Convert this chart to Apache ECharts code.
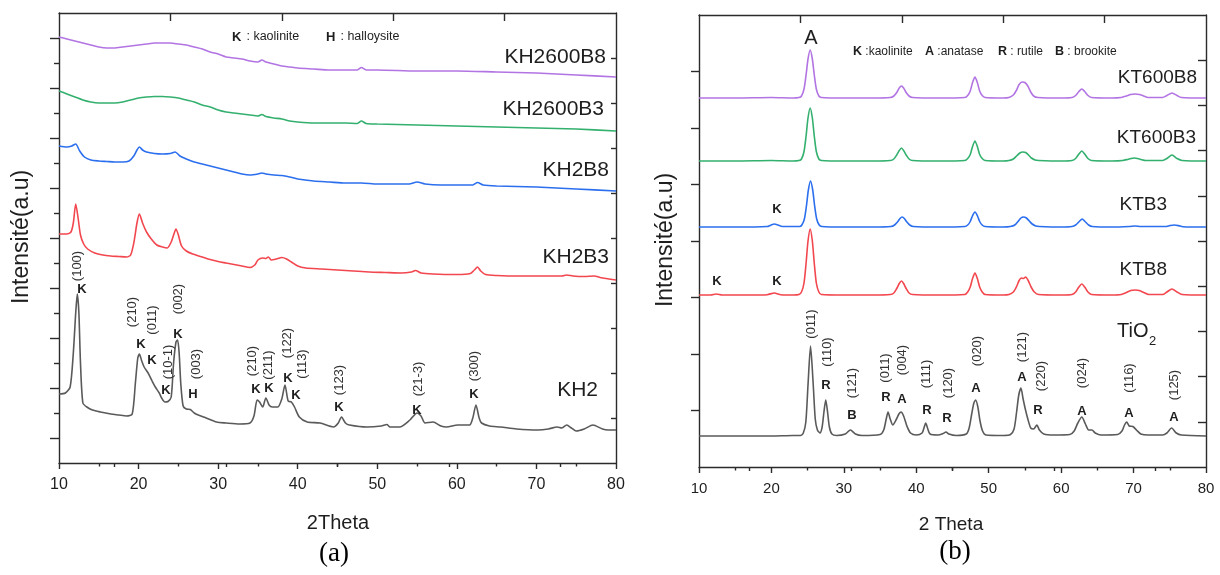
<!DOCTYPE html>
<html>
<head>
<meta charset="utf-8">
<script src="https://cdn.jsdelivr.net/npm/echarts@6/dist/echarts.min.js"></script>
<style>
  html, body { margin: 0; padding: 0; background: #fff; }
  #chart { width: 1220px; height: 575px; }
</style>
</head>
<body>
<div id="chart"></div>
<script>
// ---- Panel (a): kaolinite / halloysite samples, [2theta, intensity a.u.] ----
const kh2600b8 = [[10,426],[11,424],[12,422],[13,420],[14,418],[15,416],[16,415],[17,415],[18,416],[19,417],[20,418],[21,419],[22,420],[23,420],[24,420],[25,419],[26,418],[27,416],[28,414],[29,411],[30,409],[31,406],[32,405],[33,404],[34,402],[35,401],[35.5,403],[36,401],[37,399],[38,397],[39,396],[40,395],[42,394],[44,393],[46,393],[47.5,393],[48,395.5],[48.6,393],[50,393],[55,392],[60,392],[65,391],[70,390],[75,388],[80,386]];
const kh2600b3 = [[10,372],[11,369],[12,366],[13,363],[14,361],[15,360],[16,360],[17,360],[18,361],[19,363],[20,365],[21,366],[22,366.5],[23,366.5],[24,366],[25,365],[26,363],[27,361],[28,358],[29,356],[30,353],[31,351],[32,350],[33,349],[34,348],[35,347],[35.5,348.5],[36,346.5],[37,345],[38,344],[39,342],[40,341],[42,340],[44,340],[46,340],[47.5,339.5],[48,342],[48.6,339.5],[50,339],[55,338],[60,337],[65,336],[70,335],[75,334],[80,332]];
const kh2b8 = [[10,317],[11,316],[11.6,317],[12.1,319],[12.6,312],[13.2,306],[14,303],[15,302],[16,301.5],[17,301],[18,301],[18.8,302],[19.4,307],[19.8,313],[20.1,316],[20.5,313],[21,311],[22,309.5],[23,309],[24,309.5],[24.6,311],[25.2,307],[26,304],[27,301],[28,299],[29,297],[30,295],[31,293],[32,291],[33,289],[34,288],[35,289],[35.5,290],[36,289],[37,288],[38,287.5],[39,286],[40,284],[42,282],[44,281],[46,280],[48,280],[50,279],[52,279],[54,279],[55,281],[56,279],[58,278],[60,278],[62,278],[62.6,280.5],[63.3,278],[65,277],[70,276],[75,274],[80,272]];
const kh2b3 = [[10,229],[11,229],[11.5,231],[11.8,240],[12.1,259],[12.4,245],[12.7,228],[13.1,219],[13.6,214],[14.5,210],[15.5,208],[16.5,207],[17.5,206.5],[18.5,206],[19,208],[19.4,220],[19.8,240],[20.1,249],[20.5,240],[21,231],[21.6,224],[22.3,218],[23,216],[23.6,215],[24.1,221],[24.4,228],[24.7,234],[25,228],[25.4,217],[26,212],[26.8,209],[28,206],[29,203.5],[30,201.5],[31,200],[32,198.5],[33,197],[34,195.5],[34.6,198],[35,203],[35.6,205],[36,204.5],[36.3,206],[36.7,203],[37.3,204],[38,205.5],[38.6,204],[39.2,201],[40,197],[41,195],[43,194],[45,193],[47,192],[49,191],[51,190.5],[53,190],[54.3,191],[54.8,192.5],[55.5,190],[57,189],[60,188.5],[61.7,189.5],[62.2,193],[62.6,196],[63,192],[63.6,188.5],[65,187.5],[68,187],[71,187],[73.2,187],[73.8,188],[74.6,187],[76,186.5],[77.3,187],[78,185.5],[80,183]];
const kh2 = [[10,69],[10.8,70],[11.4,76],[11.8,110],[12.1,150],[12.3,169],[12.5,150],[12.7,100],[13,60],[13.5,56],[14.2,53],[15.2,51],[16.5,49],[17.5,48],[18.5,47],[19.2,49],[19.6,80],[19.9,105],[20.1,109],[20.4,102],[20.7,96],[21.2,90],[21.7,82],[22.1,76],[22.6,70],[22.9,65],[23.3,61],[23.7,61.5],[24.1,66],[24.4,100],[24.7,121],[24.9,123],[25.1,110],[25.3,80],[25.6,57],[26,54],[26.5,53.5],[27,50],[27.5,48],[28.5,45],[29.8,41],[31,40],[32.7,39],[34,40],[34.5,47],[34.9,63],[35.2,61],[35.6,56],[36,65],[36.4,58],[36.8,56],[37.5,56],[38,64],[38.4,78],[38.8,62],[39.2,61],[39.6,56],[40.2,46],[41.2,41],[42.8,40],[44.5,36],[45.1,40],[45.5,46],[46,40],[46.5,38],[48.7,36],[50.5,37],[51.2,38.5],[51.6,36],[52.8,36],[54.1,43],[55,50],[55.5,47],[56,40],[57,41],[58,37],[58.7,36],[60.1,38],[61.6,38],[62,45],[62.4,58],[62.8,45],[63.1,40],[64.1,37],[65.5,36],[67.5,34],[70.2,33],[71.5,34],[72.6,36],[73.2,35],[73.8,38],[74.4,35],[75,32],[76,34],[77.1,38],[78.3,34],[79,33],[80,33]];

// ---- Panel (b): TiO2 composites, [2theta, intensity a.u.] ----
const kt600b8 = [[10,369],[15,369],[20,369.5],[23,369],[23.8,369.5],[24.15,371],[24.5,378],[24.8,393],[25.05,408],[25.35,417],[25.65,408],[25.9,393],[26.2,378],[26.55,371],[26.9,369.5],[30,369],[34,369],[36.4,369.5],[36.9,371],[37.3,374.5],[37.65,379],[37.95,381],[38.25,379],[38.6,374.5],[39,371],[39.5,369.5],[43,369],[46.7,369.5],[47.1,371.5],[47.45,376],[47.75,384],[48.1,390],[48.45,384],[48.75,376],[49.1,371.5],[49.5,369.5],[52,369],[52.8,369.5],[53.4,372],[53.85,377],[54.2,382.5],[54.6,385],[55,384.5],[55.4,381],[55.8,375],[56.2,371],[56.8,369.5],[60,369],[61.5,369.5],[62,371.5],[62.45,375.5],[62.85,378],[63.25,375.5],[63.7,371.5],[64.2,369.5],[67,369],[68.3,369.5],[69,371],[69.6,372.5],[70.2,373],[70.8,372.5],[71.4,371],[72,369.5],[74,369.5],[74.6,371.5],[75.3,374],[76,371.5],[76.6,369.5],[80,369]];
const kt600b3 = [[10,306],[15,306],[20,306.5],[23,306],[23.8,306.5],[24.15,308],[24.5,315.5],[24.8,332],[25.05,349],[25.35,359],[25.65,349],[25.9,332],[26.2,315.5],[26.55,308],[26.9,306.5],[30,306],[34,306],[36.4,306.5],[36.9,308],[37.3,312],[37.65,316.5],[37.95,319],[38.25,316.5],[38.6,312],[39,308],[39.5,306.5],[43,306],[46.7,306.5],[47.1,308.5],[47.45,312.5],[47.75,320],[48.1,326],[48.45,320],[48.75,312.5],[49.1,308.5],[49.5,306.5],[52,306],[52.8,306.5],[53.4,308],[53.85,311],[54.3,314],[54.7,315],[55.1,314.5],[55.5,312],[55.9,309],[56.4,307],[56.9,306.5],[60,306],[61.5,306.5],[62,308.5],[62.45,313],[62.85,316],[63.25,313],[63.7,308.5],[64.2,306.5],[67,306],[68.5,306.5],[69.3,307.8],[70.1,309],[70.9,307.8],[71.7,306.5],[74,306.5],[74.6,308.5],[75.3,312],[76,308.5],[76.7,306.5],[80,306]];
const ktb3 = [[10,240],[15,240],[19.4,240.5],[19.9,241.8],[20.4,243],[20.9,242],[21.5,240.5],[23.9,240.5],[24.2,242],[24.55,248],[24.85,262],[25.1,277],[25.4,286],[25.7,277],[25.95,262],[26.25,248],[26.6,242],[26.95,240.5],[30,240],[34,240],[36.5,240.5],[37,242],[37.4,245],[37.75,248.5],[38.05,250],[38.35,248.5],[38.7,245],[39.1,242],[39.6,240.5],[43,240],[46.7,240.5],[47.1,242],[47.45,245.5],[47.75,251],[48.1,255],[48.45,251],[48.75,245.5],[49.1,242],[49.5,240.5],[52,240],[53,240.5],[53.6,242],[54.05,245.5],[54.45,249],[54.8,250],[55.2,249],[55.6,246],[56,243],[56.5,241],[57,240.5],[60,240],[61.5,240.5],[62,242],[62.5,245.5],[62.9,248],[63.3,245.5],[63.8,242],[64.3,240.5],[67,240],[69.4,240.5],[70.2,241],[71,240.5],[74.4,240.5],[75,241.4],[75.6,242],[76.2,241.4],[76.8,240.3],[80,240]];
const ktb8 = [[10,172],[11.6,172],[12.4,173],[13.2,172],[17,172],[19.4,172.3],[20.4,174],[21.3,172.3],[23,172],[23.8,172.5],[24.15,175],[24.5,184],[24.8,205],[25.05,226],[25.35,238],[25.65,226],[25.9,205],[26.2,184],[26.55,175],[26.9,172.5],[30,172],[34,172],[36.4,172.5],[36.9,174],[37.3,178.5],[37.65,183.5],[37.95,186],[38.25,183.5],[38.6,178.5],[39,174],[39.5,172.5],[43,172],[46.7,172.5],[47.1,175],[47.45,180],[47.75,188],[48.1,194],[48.45,188],[48.75,180],[49.1,175],[49.5,172.5],[52,172],[52.8,172.5],[53.4,175],[53.85,180.5],[54.2,186.5],[54.5,189],[54.8,188.5],[55.1,190],[55.45,186.5],[55.85,180],[56.3,175],[56.9,172.5],[60,172],[61.5,172.5],[62,175],[62.45,180],[62.85,183],[63.25,180],[63.7,175],[64.2,172.5],[67,172],[68.3,172.5],[69,174.5],[69.6,176.5],[70.2,177],[70.8,176.5],[71.4,174.5],[72.1,172.5],[74,172.5],[74.6,175],[75.3,178],[76,175],[76.7,172.5],[80,172]];
const tio2 = [[10,31],[15,31],[20,31],[23,31.5],[24,31.5],[24.4,34],[24.75,45],[25.05,82],[25.4,121],[25.75,85],[26.05,48],[26.35,37],[26.7,34],[27,40],[27.25,55],[27.5,67],[27.75,55],[28,40],[28.35,33],[29,31.5],[30.2,33],[30.9,37],[31.6,33],[32.5,31.5],[35,32.5],[35.5,37],[35.85,48],[36.1,55],[36.4,48],[36.75,42],[37.2,47],[37.6,53],[37.9,55],[38.25,51],[38.7,41],[39.2,34],[40,32],[40.8,34],[41.1,40],[41.3,44],[41.55,39],[41.9,33],[43,32],[43.7,33.5],[44.1,35],[44.5,33],[45.5,31.5],[46.9,33],[47.3,39],[47.65,53],[47.95,64],[48.2,67],[48.5,60],[48.8,46],[49.15,36],[49.6,32],[52,31.5],[53,32.5],[53.5,38],[53.85,55],[54.15,72],[54.45,79],[54.75,68],[55.05,58],[55.4,48],[55.8,39],[56.2,38],[56.65,42],[57,37],[57.6,33],[59,32],[61.2,32.5],[61.8,36],[62.3,44],[62.85,50],[63.35,43],[63.8,37],[64.25,37],[64.7,34],[65.5,32],[67.8,32.5],[68.4,36],[68.75,42],[69.05,45],[69.4,41],[69.9,40.5],[70.4,37],[71,33],[72,32],[74,32],[74.6,34],[75.25,39],[75.9,34],[76.6,32],[80,31]];

// ---- Text content ----
const panelATitles = ['KH2600B8', 'KH2600B3', 'KH2B8', 'KH2B3', 'KH2'];
const panelBTitles = ['KT600B8', 'KT600B3', 'KTB3', 'KTB8'];
const panelAIndices = ['(100)','(210)','(011)','(10-1)','(002)','(003)','(210)','(211)','(122)','(113)','(123)','(21-3)','(300)'];
const panelAPhases = ['K','K','K','K','K','H','K','K','K','K','K','K','K'];
const panelBIndices = ['(011)','(110)','(121)','(011)','(004)','(111)','(120)','(020)','(121)','(220)','(024)','(116)','(125)'];
const panelBPhases = ['R','B','R','A','R','R','A','A','R','A','A','A'];
const panelBKaolinite = ['K','K','K'];
const xTicks = [10, 20, 30, 40, 50, 60, 70, 80];

// ---- Layout of the annotation texts (pixel anchors) ----
const layoutAIndices = [[77,266],[132,312],[152,320],[168,362],[178,299],[196,364],[252,361],[268,365],[287,343],[302,364],[339,380],[418,379],[474,366]];
const layoutAPhases = [[82,289],[141,344],[152,360],[166,390],[178,334],[193,394],[256,389],[269,388],[288,378],[296,395],[339,407],[417,410],[474,394]];
const layoutATitles = [[606,57],[604,109],[609,170],[609,257],[598,390]];
const layoutBIndices = [[811,324],[827,352],[852,383],[885,368],[902,360],[926,374],[948,383],[977,351],[1022,347],[1041,376],[1082,373],[1129,378],[1174,385]];
const layoutBPhases = [[826,385],[852,415],[886,397],[902,399],[927,410],[947,418],[976,388],[1022,377],[1038,410],[1082,411],[1129,413],[1174,417]];
const layoutBKaolinite = [[777,209],[717,281],[777,281]];
const layoutBTitles = [[1197,78],[1196,138],[1167,205],[1167,270]];

const FONT = '"Liberation Sans", Arial, Helvetica, sans-serif';
const AX = { color: '#2b2b2b', width: 1.4 };
const TXT = '#1e1e1e';

function gridAxes(gi, yMax, leftLong, leftShort, leftLongLen, leftShortLen, rightVals, rightLen, labelSize) {
  const x = [
    { gridIndex: gi, type: 'value', position: 'bottom', min: 10, max: 80, interval: 10,
      axisLine: { show: true, onZero: false, lineStyle: AX },
      axisTick: { show: true, inside: false, length: 6, lineStyle: AX },
      minorTick: { show: true, splitNumber: 2, length: 3.5, lineStyle: AX },
      axisLabel: { show: true, fontSize: labelSize, color: TXT, fontFamily: FONT, margin: 14,
                   customValues: xTicks },
      splitLine: { show: false } },
    { gridIndex: gi, type: 'value', position: 'top', min: 10, max: 80,
      axisLine: { show: true, onZero: false, lineStyle: AX },
      axisTick: { show: true, inside: true, length: 8, lineStyle: AX, customValues: [24, 38, 52, 66] },
      axisLabel: { show: false }, splitLine: { show: false } },
    { gridIndex: gi, type: 'value', position: 'top', min: 10, max: 80,
      axisLine: { show: false },
      axisTick: { show: true, inside: true, length: 4, lineStyle: AX, customValues: [17, 31, 45, 59, 73] },
      axisLabel: { show: false }, splitLine: { show: false } }
  ];
  const y = [
    { gridIndex: gi, type: 'value', position: 'left', min: 0, max: yMax,
      axisLine: { show: true, onZero: false, lineStyle: AX },
      axisTick: { show: true, inside: false, length: leftLongLen, lineStyle: AX, customValues: leftLong },
      axisLabel: { show: false }, splitLine: { show: false } },
    { gridIndex: gi, type: 'value', position: 'left', min: 0, max: yMax,
      axisLine: { show: false },
      axisTick: { show: leftShort.length > 0, inside: false, length: leftShortLen, lineStyle: AX,
                  customValues: leftShort.length ? leftShort : [0] },
      axisLabel: { show: false }, splitLine: { show: false } },
    { gridIndex: gi, type: 'value', position: 'right', min: 0, max: yMax,
      axisLine: { show: true, onZero: false, lineStyle: AX },
      axisTick: { show: true, inside: true, length: rightLen, lineStyle: AX, customValues: rightVals },
      axisLabel: { show: false }, splitLine: { show: false } }
  ];
  return { x, y };
}

const steps = (start, step, count) => Array.from({ length: count }, (_, i) => +(start + i * step).toFixed(2));

const axesA = gridAxes(0, 450, steps(25, 50, 9), steps(50, 50, 8), 9, 5, steps(45, 45, 9), 5, 16);
const axesB = gridAxes(1, 452, steps(56.5, 56.5, 7), [], 8, 0, steps(45.2, 45.2, 9), 8, 15);

function line(name, data, color, gi) {
  return {
    name, type: 'line', data,
    xAxisIndex: gi * 3, yAxisIndex: gi * 3,
    showSymbol: false, smooth: 0.25, animation: false,
    lineStyle: { color, width: 1.6 }, itemStyle: { color }
  };
}

const PURPLE = '#b274e2', GREEN = '#33b06e', BLUE = '#2c6fee', RED = '#f2474f', GRAY = '#5a5a5a';

function text(x, y, str, o = {}) {
  return {
    type: 'text', x, y, rotation: o.rot || 0, z: 100, silent: true,
    style: {
      text: str, fill: o.color || TXT, fontSize: o.size || 13, fontFamily: o.family || FONT,
      fontWeight: o.weight || 'normal', align: o.align || 'center', verticalAlign: o.valign || 'middle'
    }
  };
}

const graphics = [];
// axis titles
graphics.push(text(22, 237, 'Intensité(a.u)', { rot: Math.PI / 2, size: 23 }));
graphics.push(text(338, 523, '2Theta', { size: 20 }));
graphics.push(text(334, 554, '(a)', { size: 27, family: '"Liberation Serif", "Times New Roman", serif', color: '#000' }));
graphics.push(text(666, 240, 'Intensité(a.u)', { rot: Math.PI / 2, size: 23 }));
graphics.push(text(951, 525, '2 Theta', { size: 19 }));
graphics.push(text(955, 552, '(b)', { size: 27, family: '"Liberation Serif", "Times New Roman", serif', color: '#000' }));

// legend keys, panel (a)
graphics.push(text(232, 37, 'K', { align: 'left', weight: 'bold', size: 13 }));
graphics.push(text(243, 37, ' : kaolinite', { align: 'left', size: 12.5 }));
graphics.push(text(326, 37, 'H', { align: 'left', weight: 'bold', size: 13 }));
graphics.push(text(337, 37, ' : halloysite', { align: 'left', size: 12.5 }));
// legend keys, panel (b)
const legB = [[853, 'K', ' :kaolinite'], [925, 'A', ' :anatase'], [998, 'R', ' : rutile'], [1055, 'B', ' : brookite']];
legB.forEach(([x, k, t]) => {
  graphics.push(text(x, 52, k, { align: 'left', weight: 'bold', size: 12.5 }));
  graphics.push(text(x + 9, 52, t, { align: 'left', size: 12 }));
});
graphics.push(text(811, 38, 'A', { size: 20 }));

// sample names
panelATitles.forEach((t, i) => graphics.push(text(layoutATitles[i][0], layoutATitles[i][1], t, { align: 'right', size: 21 })));
panelBTitles.forEach((t, i) => graphics.push(text(layoutBTitles[i][0], layoutBTitles[i][1], t, { align: 'right', size: 19 })));
graphics.push(text(1117, 331, 'TiO', { align: 'left', size: 20 }));
graphics.push(text(1149, 341, '2', { align: 'left', size: 13 }));

// reflection indices and phase letters
panelAIndices.forEach((t, i) => graphics.push(text(layoutAIndices[i][0], layoutAIndices[i][1], t, { rot: Math.PI / 2, size: 13, color: '#333' })));
panelAPhases.forEach((t, i) => graphics.push(text(layoutAPhases[i][0], layoutAPhases[i][1], t, { weight: 'bold', size: 13 })));
panelBIndices.forEach((t, i) => graphics.push(text(layoutBIndices[i][0], layoutBIndices[i][1], t, { rot: Math.PI / 2, size: 13, color: '#333' })));
panelBPhases.forEach((t, i) => graphics.push(text(layoutBPhases[i][0], layoutBPhases[i][1], t, { weight: 'bold', size: 13 })));
panelBKaolinite.forEach((t, i) => graphics.push(text(layoutBKaolinite[i][0], layoutBKaolinite[i][1], t, { weight: 'bold', size: 13 })));

const chart = echarts.init(document.getElementById('chart'), null, { renderer: 'canvas' });
chart.setOption({
  animation: false,
  backgroundColor: '#ffffff',
  grid: [
    { left: 59, top: 13, width: 557, height: 450, containLabel: false },
    { left: 699, top: 15, width: 507, height: 452, containLabel: false }
  ],
  xAxis: [...axesA.x, ...axesB.x],
  yAxis: [...axesA.y, ...axesB.y],
  series: [
    line('KH2600B8', kh2600b8, PURPLE, 0),
    line('KH2600B3', kh2600b3, GREEN, 0),
    line('KH2B8', kh2b8, BLUE, 0),
    line('KH2B3', kh2b3, RED, 0),
    line('KH2', kh2, GRAY, 0),
    line('KT600B8', kt600b8, PURPLE, 1),
    line('KT600B3', kt600b3, GREEN, 1),
    line('KTB3', ktb3, BLUE, 1),
    line('KTB8', ktb8, RED, 1),
    line('TiO2', tio2, GRAY, 1)
  ],
  graphic: graphics
});
</script>
</body>
</html>
